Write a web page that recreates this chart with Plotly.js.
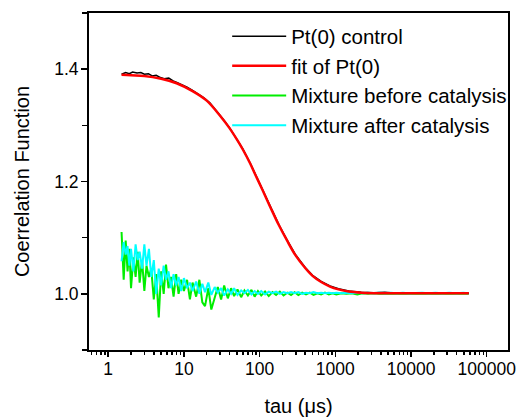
<!DOCTYPE html>
<html>
<head>
<meta charset="utf-8">
<script src="https://cdn.plot.ly/plotly-3.0.1.min.js"></script>
<style>html,body{margin:0;padding:0;background:#fff;}#chart{width:524px;height:417px;}</style>
</head>
<body>
<div id="chart"></div>
<script>
// Mixture series time grid (μs)
const tauN = [
  1.50, 1.60, 1.70, 1.80, 1.90, 2.00, 2.15, 2.30, 2.45, 2.60,
  2.80, 3.00, 3.20, 3.45, 3.70, 4.00, 4.30, 4.65, 5.00, 5.40,
  5.80, 6.25, 6.75, 7.30, 7.90, 8.50, 9.20, 10.0, 11.0, 12.0,
  13.0, 14.5, 16.0, 17.5, 19.0, 21.0, 23.0, 25.5, 28.0, 31.0,
  34.0, 38.0, 42.0, 46.0, 51.0, 57.0, 63.0, 70.0, 78.0, 86.0,
  95, 105, 118, 132, 148, 165, 185, 207, 232, 260,
  290, 325, 365, 410, 460, 515, 580, 650, 730, 820,
  920, 1030, 1200, 1400, 1650, 1950, 2300, 2700, 3200, 3800,
  4500, 5400, 6500, 7800, 9400, 11500, 14000, 17000, 21000, 26000,
  32000, 40000, 49000, 58000
];
const mixBefore = [
  1.110, 1.025, 1.095, 1.040, 1.080, 1.010, 1.065, 1.030, 1.075, 1.020,
  1.060, 1.005, 1.050, 1.030, 1.045, 0.990, 1.035, 0.958, 1.040, 1.000,
  1.052, 1.010, 1.030, 0.995, 1.035, 1.000, 1.025, 1.005, 1.025, 0.990,
  1.020, 0.995, 1.025, 0.985, 0.978, 1.010, 0.972, 0.995, 1.012, 0.990,
  1.015, 0.992, 1.010, 0.996, 1.008, 0.994, 1.006, 0.997, 1.007, 0.995,
  1.005, 0.997, 1.004, 0.996, 1.003, 0.998, 1.004, 0.997, 1.002, 0.998,
  1.003, 0.998, 1.002, 0.999, 1.002, 0.998, 1.001, 0.999, 1.002, 0.999,
  1.001, 0.999, 1.001, 1.000, 1.001, 0.999, 1.001, 1.000, 1.001, 1.000,
  1.000, 1.001, 1.000, 1.001, 1.000, 1.000, 1.001, 1.000, 1.000, 1.001,
  1.000, 1.001, 1.000, 1.000
];
const mixAfter = [
  1.058, 1.092, 1.070, 1.085, 1.050, 1.080, 1.040, 1.088, 1.060, 1.075,
  1.045, 1.088, 1.050, 1.080, 1.030, 1.060, 1.000, 1.045, 1.015, 1.050,
  1.025, 1.040, 1.010, 1.035, 1.015, 1.030, 1.005, 1.028, 1.010, 1.020,
  1.005, 1.022, 1.000, 1.018, 1.003, 1.020, 0.998, 1.012, 1.002, 1.010,
  0.997, 1.008, 1.000, 1.010, 0.998, 1.006, 1.001, 1.007, 0.999, 1.005,
  1.000, 1.005, 0.999, 1.004, 1.001, 1.004, 1.000, 1.003, 1.001, 1.003,
  1.001, 1.003, 1.000, 1.002, 1.001, 1.003, 1.001, 1.002, 1.001, 1.002,
  1.001, 1.002, 1.001, 1.002, 1.001, 1.002, 1.001, 1.002, 1.001, 1.002,
  1.001, 1.002, 1.001, 1.002, 1.001, 1.002, 1.002, 1.001, 1.002, 1.001,
  1.002, 1.001, 1.002, 1.001
];
// Pt(0) control
const tauB = [
  1.5, 1.7, 1.9, 2.1, 2.4, 2.7, 3.0, 3.4, 3.8, 4.3,
  4.9, 5.5, 6.3, 7.2, 8.2, 9.5, 11, 13, 15, 18,
  22, 27, 33, 40, 50, 60, 75, 90, 110, 140,
  180, 230, 300, 400, 500, 650, 850, 1100, 1500, 2200,
  3200, 4500, 6500, 9400, 14000, 21000, 32000, 45000, 58000
];
const control = [
  1.391, 1.394, 1.392, 1.395, 1.393, 1.394, 1.391, 1.392, 1.388, 1.389,
  1.385, 1.383, 1.384, 1.379, 1.376, 1.372, 1.368, 1.362, 1.357, 1.350,
  1.340, 1.326, 1.311, 1.296, 1.276, 1.258, 1.233, 1.210, 1.185, 1.154,
  1.123, 1.096, 1.069, 1.047, 1.033, 1.022, 1.014, 1.009, 1.005, 1.003,
  1.002, 1.003, 1.001, 1.002, 1.001, 1.002, 1.001, 1.002, 1.001
];
// fit of Pt(0)
const tauF = [1.5, 2, 3, 5, 8, 13, 20, 30, 40, 50, 60, 75, 90, 110, 140, 180, 230, 300, 400, 500, 650, 850, 1100, 1500, 2200, 4000, 10000, 30000, 58000];
const fitVals = [1.390, 1.389, 1.388, 1.383, 1.375, 1.361, 1.344, 1.317, 1.295, 1.275, 1.257, 1.232, 1.209, 1.184, 1.153, 1.122, 1.095, 1.068, 1.046, 1.032, 1.021, 1.013, 1.008, 1.004, 1.002, 1.001, 1.001, 1.001, 1.001];

const names = ['Pt(0) control', 'fit of Pt(0)', 'Mixture before catalysis', 'Mixture after catalysis'];

const data = [
  {x: tauN, y: mixBefore, name: names[2], mode: 'lines', line: {color: '#00ee00', width: 2}, legendrank: 3},
  {x: tauN, y: mixAfter, name: names[3], mode: 'lines', line: {color: '#00ffff', width: 2}, legendrank: 4},
  {x: tauB, y: control, name: names[0], mode: 'lines', line: {color: '#000000', width: 1.5}, legendrank: 1},
  {x: tauF, y: fitVals, name: names[1], mode: 'lines', line: {color: '#ff0000', width: 2.5, shape: 'spline', smoothing: 1}, legendrank: 2}
];

const fontFam = 'Liberation Sans, Arial, sans-serif';
const layout = {
  width: 524, height: 417,
  margin: {l: 89, r: 15, t: 13, b: 67},
  paper_bgcolor: '#ffffff', plot_bgcolor: '#ffffff',
  font: {family: fontFam, color: '#000', size: 17},
  showlegend: true,
  legend: {x: 0.329, y: 0.99, xanchor: 'left', yanchor: 'top', bgcolor: 'rgba(0,0,0,0)',
           font: {size: 20.5, family: fontFam, color: '#000'}, itemwidth: 54, tracegroupgap: 0},
  xaxis: {
    type: 'log', range: [-0.254, 5.281],
    showline: true, linecolor: '#000', linewidth: 2, mirror: true,
    showgrid: false, zeroline: false,
    ticks: 'outside', ticklen: 5, tickwidth: 1.5, tickcolor: '#000',
    tickvals: [1, 10, 100, 1000, 10000, 100000],
    ticktext: ['1', '10', '100', '1000', '10000', '100000'],
    tickfont: {size: 17.5}, ticklabelstandoff: -3,
    minor: {ticks: 'outside', ticklen: 3, tickwidth: 1.5, tickcolor: '#000', showgrid: false, dtick: 'D1'},
    title: {text: 'tau (μs)', font: {size: 20}, standoff: 21}
  },
  yaxis: {
    range: [0.9, 1.5],
    showline: true, linecolor: '#000', linewidth: 2, mirror: true,
    showgrid: false, zeroline: false,
    ticks: 'outside', ticklen: 6, tickwidth: 1.5, tickcolor: '#000',
    tick0: 1.0, dtick: 0.2, tickformat: '.1f',
    tickfont: {size: 17.5}, ticklabelstandoff: -1,
    minor: {ticks: 'outside', ticklen: 5, tickwidth: 1.5, tickcolor: '#000', dtick: 0.1, showgrid: false},
    title: {text: 'Coerrelation Function', font: {size: 20}, standoff: 19}
  }
};

Plotly.newPlot('chart', data, layout, {displayModeBar: false, staticPlot: true});
</script>
</body>
</html>
